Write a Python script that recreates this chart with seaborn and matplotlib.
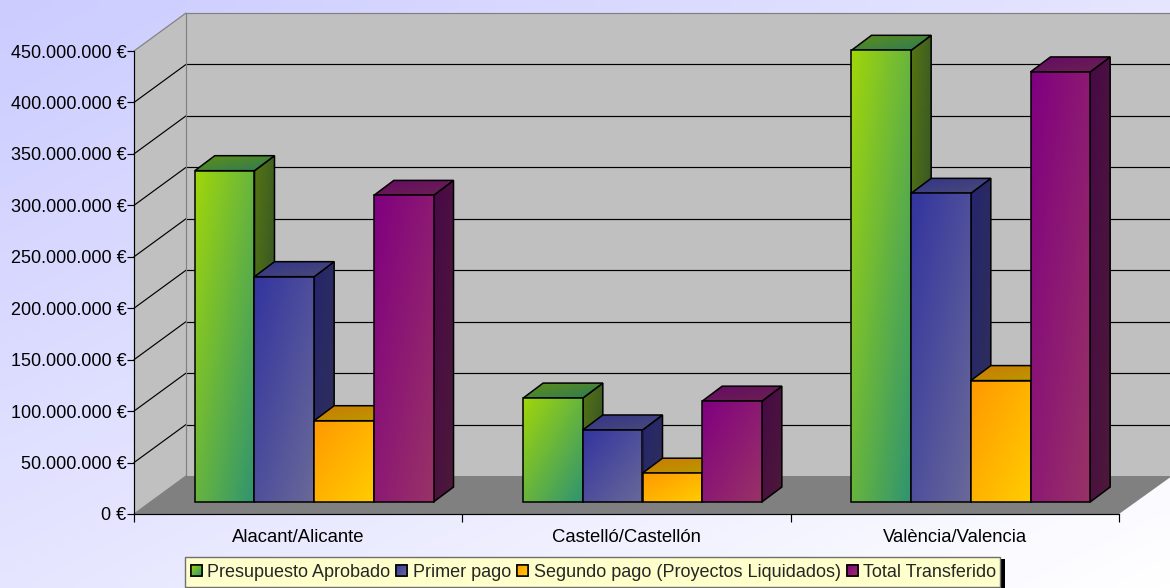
import matplotlib
matplotlib.use("Agg")
import matplotlib.pyplot as plt
import numpy as np
import pandas as pd
import seaborn as sns
from matplotlib.colors import to_rgb
from matplotlib.patches import Polygon, Rectangle
from matplotlib.transforms import Affine2D, IdentityTransform

provincias = ["Alacant/Alicante", "Castelló/Castellón", "València/Valencia"]
series = ["Presupuesto Aprobado", "Primer pago", "Segundo pago (Proyectos Liquidados)", "Total Transferido"]
presupuesto = [322000000, 101000000, 439000000]
primer_pago = [219000000, 70000000, 300000000]
segundo_pago = [79000000, 28000000, 118000000]
total_transferido = [298000000, 98000000, 418000000]
y_ticks = [0, 50000000, 100000000, 150000000, 200000000, 250000000, 300000000, 350000000, 400000000, 450000000]

# colores: (frente inicio, frente fin, lado inicio, lado fin, tapa inicio, tapa fin)
colores = [
    ("#a0d60a", "#2f9470", "#557512", "#2c4a2e", "#5f8f14", "#2e7a58"),
    ("#33349f", "#696999", "#25256e", "#303056", "#33348a", "#4a4a78"),
    ("#ff9900", "#ffcc00", "#b06a00", "#a08a00", "#cc7a00", "#b89c00"),
    ("#800080", "#993366", "#480848", "#4c1a38", "#660a66", "#6a2250"),
]
medios = ["#67b53d", "#4e4f9c", "#ffb300", "#8c1a73"]

W, H = 1170, 588
X0, X1, Y0, Y1 = 134, 1119, 514, 51  # plano frontal en pixeles
FONDO_DX, FONDO_DY = 52, 38  # profundidad del suelo
BARRA_DX, BARRA_DY = 16, 12  # separacion de la barra
CARA_DX, CARA_DY = 20, 15  # profundidad de la barra

sns.set_theme(style="white")
plt.rcParams["font.family"] = ["Liberation Sans", "DejaVu Sans"]

df = pd.DataFrame({
    "provincia": provincias * 4,
    "serie": np.repeat(series, 3),
    "valor": presupuesto + primer_pago + segundo_pago + total_transferido,
})


def degradado(c1, c2, n=64):
    # degradado diagonal, esquina superior izquierda a inferior derecha
    u, v = np.meshgrid(np.linspace(0, 1, n), np.linspace(0, 1, n))
    t = ((u + v) / 2)[..., None]
    return (1 - t) * np.array(to_rgb(c1)) + t * np.array(to_rgb(c2))


def cara(ax, pts, c1, c2, z, borde=True):
    # pts en pixeles de pantalla (y hacia arriba)
    pts = np.array(pts)
    im = ax.imshow(degradado(c1, c2), extent=(pts[:, 0].min(), pts[:, 0].max(), pts[:, 1].min(), pts[:, 1].max()),
                   origin="upper", aspect="auto", interpolation="bilinear", zorder=z, transform=IdentityTransform())
    poly = Polygon(pts, closed=True, transform=IdentityTransform(), facecolor="none",
                   edgecolor="black" if borde else "none", linewidth=1.1, zorder=z + 0.05, clip_on=False)
    ax.add_patch(poly)
    # las tapas salen por encima del eje
    im.set_clip_box(fig.bbox)
    im.set_clip_path(poly)
    return im


fig = plt.figure(figsize=(W / 100, H / 100), dpi=100)

# fondo, paredes y suelo en pixeles
bg = fig.add_axes([0, 0, 1, 1])
bg.imshow(degradado("#ccccff", "#ffffff"), extent=(0, W, H, 0), aspect="auto", interpolation="bilinear", zorder=0)
bg.set_xlim(0, W)
bg.set_ylim(H, 0)
bg.axis("off")
fx, fy = X0 + FONDO_DX, Y0 - FONDO_DY
tope = Y1 - FONDO_DY
bg.add_patch(Polygon([(fx, fy), (W + 2, fy), (W + 2, tope), (fx, tope)], facecolor="#c0c0c0", edgecolor="none", zorder=1))
bg.add_patch(Polygon([(X0, Y0), (fx, fy), (fx, tope), (X0, Y1)], facecolor="#c0c0c0", edgecolor="none", zorder=1))
bg.add_patch(Polygon([(X0, Y0), (fx, fy), (W + 2, fy), (X1, Y0)], facecolor="#808080", edgecolor="none", zorder=2))
for v in y_ticks:
    py = Y0 + (Y1 - Y0) * v / y_ticks[-1]
    color = "#808080" if v == y_ticks[-1] else "black"
    if v > 0:
        bg.plot([fx, W + 2], [py - FONDO_DY, py - FONDO_DY], color=color, lw=0.85, zorder=3, solid_capstyle="butt")
    bg.plot([X0, fx], [py, py - FONDO_DY], color=color if v else "#808080", lw=0.85, zorder=3)
bg.plot([fx, fx], [fy, tope], color="#808080", lw=0.85, zorder=3)

# caja de la leyenda con su sombra
bg.add_patch(Rectangle((189, 559), 816, 40, facecolor="black", edgecolor="none", zorder=4))
bg.add_patch(Rectangle((184.5, 556.5), 815, 30, facecolor="#ffffcc", edgecolor="#707070", linewidth=1, zorder=5))

# eje principal con las barras
ax = fig.add_axes([X0 / W, 1 - Y0 / H, (X1 - X0) / W, (Y0 - Y1) / H])
ax.patch.set_visible(False)
sns.barplot(data=df, x="provincia", y="valor", hue="serie", hue_order=series, palette=medios,
            width=0.727, gap=0, saturation=1, edgecolor="black", linewidth=1.1, ax=ax)
ax.set_xlim(-0.5, 2.5)
ax.set_ylim(0, y_ticks[-1])
ax.set_xlabel("")
ax.set_ylabel("")

ax.set_yticks(y_ticks)
ax.set_yticklabels([f"{v:,}".replace(",", ".") + " €" for v in y_ticks], fontsize=13, color="black")
ax.set_xticks([0, 1, 2])
ax.set_xticklabels(provincias, fontsize=13.3, color="black")
ax.set_xticks([-0.5, 0.5, 1.5, 2.5], minor=True)
ax.tick_params(axis="y", left=True, length=5, width=0.85, color="black", pad=0.5)
ax.tick_params(axis="x", which="major", bottom=False, pad=5)
ax.tick_params(axis="x", which="minor", bottom=True, length=6, width=0.85, color="black")
sns.despine(ax=ax, top=True, right=True)
ax.spines["left"].set_color("black")
ax.spines["bottom"].set_color("black")
ax.spines["left"].set_linewidth(0.85)
ax.spines["bottom"].set_linewidth(0.85)

# caras en 3D a partir de las barras de seaborn
fig.canvas.draw()
desplaza = ax.transData + Affine2D().translate(BARRA_DX, BARRA_DY)
for i, cont in enumerate(ax.containers):
    c = colores[i]
    for j, bar in enumerate(cont):
        z = 5 + i + j * 10
        bar.set_transform(desplaza)
        bar.set_facecolor("none")
        bar.set_zorder(z + 0.5)
        bar.set_clip_on(False)
        (x0, y0), (x1, y1) = desplaza.transform([(bar.get_x(), 0), (bar.get_x() + bar.get_width(), bar.get_height())])
        cara(ax, [(x1, y0), (x1 + CARA_DX, y0 + CARA_DY), (x1 + CARA_DX, y1 + CARA_DY), (x1, y1)], c[2], c[3], z)
        cara(ax, [(x0, y1), (x0 + CARA_DX, y1 + CARA_DY), (x1 + CARA_DX, y1 + CARA_DY), (x1, y1)], c[4], c[5], z + 0.1)
        cara(ax, [(x0, y0), (x1, y0), (x1, y1), (x0, y1)], c[0], c[1], z + 0.2, borde=False)

# leyenda
sns.move_legend(ax, "lower left", bbox_to_anchor=(185 / W, 0.0026), bbox_transform=fig.transFigure, ncol=4, title=None,
                frameon=False, fontsize=13, columnspacing=0.33, handletextpad=0.32, handlelength=0.6,
                handleheight=0.6, borderpad=0.32, borderaxespad=0)
fig.canvas.draw()
for i, h in enumerate(ax.get_legend().legend_handles):
    caja = h.get_window_extent()
    cara(ax, [(caja.x0, caja.y0), (caja.x1, caja.y0), (caja.x1, caja.y1), (caja.x0, caja.y1)],
         colores[i][0], colores[i][1], 60)
ax.set_xlim(-0.5, 2.5)
ax.set_ylim(0, y_ticks[-1])

fig.savefig("out.png", dpi=100)
